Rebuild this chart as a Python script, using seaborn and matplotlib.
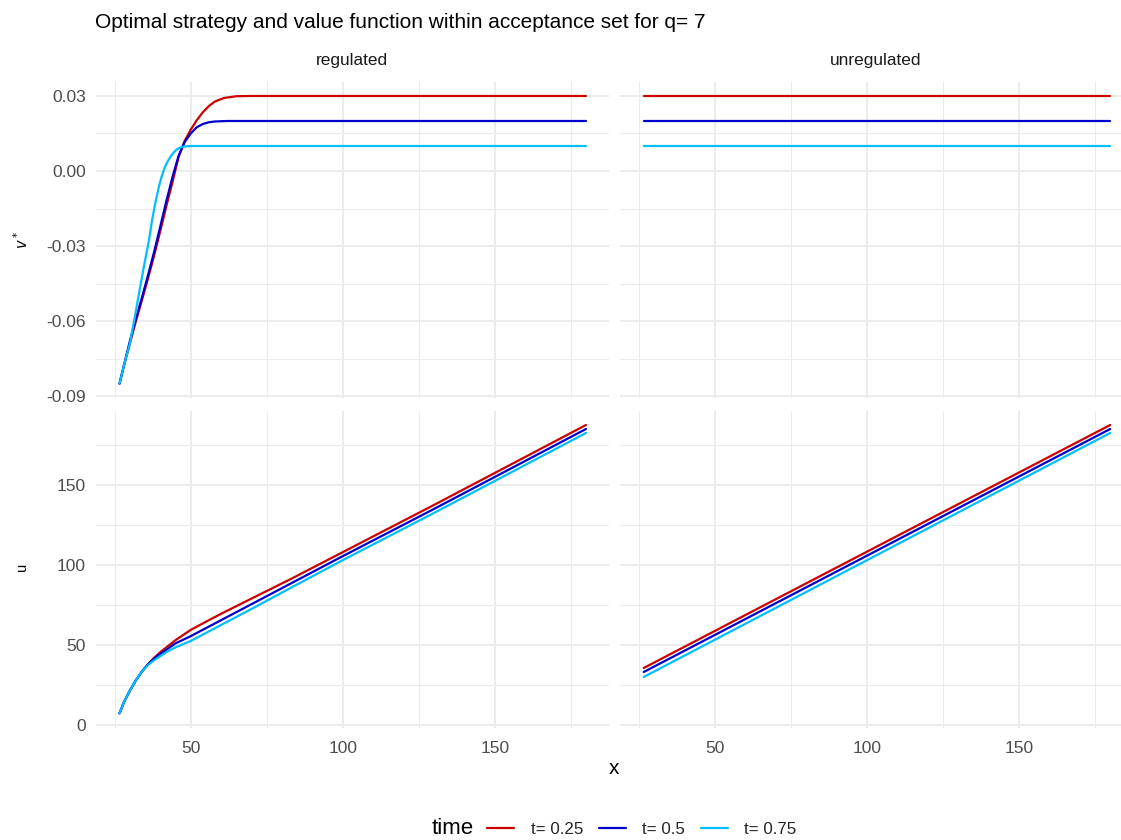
import matplotlib
matplotlib.use("Agg")
import matplotlib.pyplot as plt
from matplotlib.lines import Line2D
from matplotlib.ticker import MultipleLocator, FixedLocator
import pandas as pd
import seaborn as sns

# --- data ---
TIMES = ["t= 0.25", "t= 0.5", "t= 0.75"]
COLORS = {"t= 0.25": "#CD0000", "t= 0.5": "#0000CD", "t= 0.75": "#00BFFF"}

# regulated, value function v*
reg_v_x_25 = [26.6, 28, 30, 32, 34, 36, 38, 40, 42, 44, 46, 48, 50, 52, 54, 56, 58, 61, 65, 70, 80, 180]
reg_v_y_25 = [-0.085, -0.078, -0.069, -0.060, -0.0515, -0.0428, -0.0337, -0.0240, -0.014, -0.0045,
              0.0055, 0.012, 0.0165, 0.0203, 0.0235, 0.026, 0.0278, 0.0292, 0.0299, 0.030, 0.030, 0.030]
reg_v_x_50 = [26.6, 28, 30, 32, 34, 36, 38, 40, 42, 44, 46, 48, 50, 52, 54, 56, 58, 62, 70, 180]
reg_v_y_50 = [-0.085, -0.078, -0.068, -0.059, -0.0505, -0.0415, -0.0322, -0.0222, -0.012, -0.0025,
              0.006, 0.0115, 0.015, 0.0175, 0.0188, 0.0195, 0.0198, 0.020, 0.020, 0.020]
reg_v_x_75 = [26.6, 28, 30, 31.3, 33, 34.6, 36.3, 37.4, 38.5, 39.5, 40.5, 41.5, 42.5, 43.4,
              44.5, 45.5, 46.7, 48, 50, 55, 180]
reg_v_y_75 = [-0.085, -0.078, -0.069, -0.0605, -0.049, -0.0383, -0.0276, -0.0190, -0.012, -0.0065,
              -0.002, 0.0015, 0.004, 0.0058, 0.0075, 0.0087, 0.0095, 0.0098, 0.0100, 0.010, 0.010]

# unregulated, value function v*
unreg_v_x = [26.6, 180]
unreg_v_y_25 = [0.030, 0.030]
unreg_v_y_50 = [0.020, 0.020]
unreg_v_y_75 = [0.010, 0.010]

# regulated, strategy u
reg_u_x = [26.6, 28, 30, 32, 34, 36, 38, 40, 42, 45, 50, 55, 60, 70, 83, 100, 130, 180]
reg_u_y_25 = [7.3, 14, 21.5, 28, 33.5, 38, 42, 45.5, 48.5, 53, 59.4, 64.5, 69.5, 79, 91.3, 108, 137.5, 187.5]
reg_u_y_50 = [7.3, 14, 21.5, 28, 33.5, 38, 41.5, 44.5, 47, 51, 55.5, 60.5, 65.5, 75.5, 88.5, 105.5, 135, 185]
reg_u_y_75 = [7.3, 14, 21.5, 28, 33.5, 37.5, 40.5, 43, 45.5, 48.5, 52.5, 57.5, 62.5, 72.5, 85.8, 103, 132.5, 182.5]

# unregulated, strategy u
unreg_u_x = [26.6, 180]
unreg_u_y_25 = [35.6, 187.5]
unreg_u_y_50 = [33.1, 185.0]
unreg_u_y_75 = [30.0, 182.5]


def long_frame(xs, ys):
    rows = []
    for t, x, y in zip(TIMES, xs, ys):
        for xi, yi in zip(x, y):
            rows.append({"x": xi, "value": yi, "time": t})
    return pd.DataFrame(rows)


panels = {
    (0, 0): long_frame([reg_v_x_25, reg_v_x_50, reg_v_x_75], [reg_v_y_25, reg_v_y_50, reg_v_y_75]),
    (0, 1): long_frame([unreg_v_x] * 3, [unreg_v_y_25, unreg_v_y_50, unreg_v_y_75]),
    (1, 0): long_frame([reg_u_x] * 3, [reg_u_y_25, reg_u_y_50, reg_u_y_75]),
    (1, 1): long_frame([unreg_u_x] * 3, [unreg_u_y_25, unreg_u_y_50, unreg_u_y_75]),
}

sns.set_theme(style="white")
plt.rcParams["font.family"] = ["Liberation Sans", "DejaVu Sans"]

W, H = 1121, 840
fig = plt.figure(figsize=(W / 100, H / 100), dpi=100)

# panel boxes in pixels (left, right) and (top, bottom)
col_px = [(96.2, 609.3), (620.4, 1133.5)]
row_px = [(81.6, 398.0), (410.6, 727.7)]
xlim = (18.93, 187.67)
ylims = [(-0.09075, 0.03575), (-1.71, 196.5)]

GRID = "#EBEBEB"
axes = {}
for r in range(2):
    for c in range(2):
        l, rr = col_px[c]
        t, b = row_px[r]
        ax = fig.add_axes([l / W, 1 - b / H, (rr - l) / W, (b - t) / H])
        axes[(r, c)] = ax
        sns.lineplot(data=panels[(r, c)], x="x", y="value", hue="time", hue_order=TIMES,
                     palette=COLORS, sort=False, estimator=None, linewidth=1.6,
                     legend=False, ax=ax)
        ax.set_xlim(*xlim)
        ax.set_ylim(*ylims[r])
        ax.xaxis.set_major_locator(FixedLocator([50, 100, 150]))
        ax.xaxis.set_minor_locator(FixedLocator([25, 75, 125, 175]))
        if r == 0:
            ax.yaxis.set_major_locator(FixedLocator([-0.09, -0.06, -0.03, 0.0, 0.03]))
            ax.yaxis.set_minor_locator(FixedLocator([-0.075, -0.045, -0.015, 0.015]))
        else:
            ax.yaxis.set_major_locator(MultipleLocator(50))
            ax.yaxis.set_minor_locator(FixedLocator([25, 75, 125, 175]))
        ax.grid(which="major", color=GRID, linewidth=1.3)
        ax.grid(which="minor", color=GRID, linewidth=0.7)
        ax.set_axisbelow(True)
        for s in ax.spines.values():
            s.set_visible(False)
        ax.tick_params(which="both", length=0, labelsize=12.5, labelcolor="#4D4D4D")
        ax.tick_params(axis="x", pad=9.5)
        ax.tick_params(axis="y", pad=7.5)
        ax.set_xlabel("")
        ax.set_ylabel("")
        if r == 0:
            ax.set_xticklabels([])
        if c == 1:
            ax.set_yticklabels([])

axes[(0, 0)].yaxis.set_major_formatter(matplotlib.ticker.FuncFormatter(lambda v, p: f"{v:.2f}"))

# strips
strip_centres = [352, 876]
for xc, name in zip(strip_centres, ["regulated", "unregulated"]):
    fig.text(xc / W, 1 - 61 / H, name, ha="center", va="center",
             fontsize=12.4, color="#1A1A1A")

fig.text(95 / W, 1 - 23 / H, "Optimal strategy and value function within acceptance set for q= 7",
         ha="left", va="center", fontsize=15, color="black")

fig.text(614 / W, 1 - 768 / H, "x", ha="center", va="center", fontsize=15, color="black")
fig.text(22 / W, 1 - 240 / H, r"$v^*$", ha="center", va="center", rotation=90,
         fontsize=10.5, color="black")
fig.text(22 / W, 1 - 567 / H, "u", ha="center", va="center", rotation=90,
         fontsize=10.5, color="black")

# legend
fig.text(432 / W, 1 - 829 / H, "time", ha="left", va="center", fontsize=16, color="black")
handles = [Line2D([0], [0], color=COLORS[t], linewidth=1.6) for t in TIMES]
fig.legend(handles, TIMES, loc="center", bbox_to_anchor=(642 / W, 1 - 829 / H), ncol=3,
           frameon=False, fontsize=12.2, handlelength=1.6, handletextpad=0.95, columnspacing=0.95)

fig.savefig("out.png", dpi=100)
plt.close(fig)
